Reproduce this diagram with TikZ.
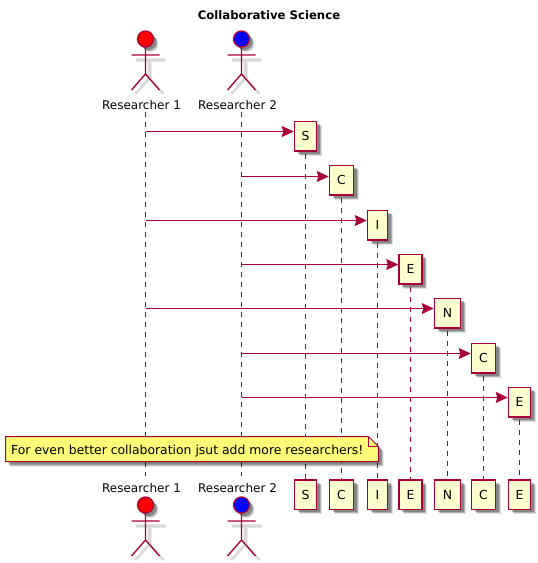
\documentclass[tikz,border=0pt]{standalone}
\usepackage{fontspec}
\setmainfont{DejaVu Sans}
\usetikzlibrary{arrows.meta,shadows,backgrounds}
\definecolor{umlline}{HTML}{A80036}
\definecolor{umlbox}{HTML}{FEFECE}
\definecolor{umlnote}{HTML}{FBFB77}
\tikzset{
    soft shadow/.style={
        general shadow={shadow xshift=5pt, shadow yshift=-5pt, fill=black, opacity=0.12},
        general shadow={shadow xshift=4pt, shadow yshift=-4pt, fill=black, opacity=0.2},
        general shadow={shadow xshift=3pt, shadow yshift=-3pt, fill=black, opacity=0.25}},
    base/.style={font=\fontsize{12.4}{14}\selectfont, text=black},
    title/.style={font=\fontsize{11.7}{14}\selectfont\bfseries, text=black},
    actor label/.style={font=\fontsize{12}{14}\selectfont, text=black, inner sep=0pt},
    part/.style={base, draw=umlline, fill=umlbox, line width=1.5pt, minimum height=29.5pt, inner sep=0pt, soft shadow},
    life/.style={draw=umlline, line width=1pt, dash pattern=on 5pt off 5pt},
    msg/.style={draw=umlline, line width=1pt, -{Stealth[length=12pt,width=11pt,inset=1.5pt]}},
    note text/.style={base, inner sep=0pt},
    note box/.style={draw=umlline, fill=umlnote, line width=1pt, soft shadow},
    pics/stick/.style={code={
        % shadow of arms, body and legs first
        \draw[black!8, line width=4.5pt] (-10,21) -- (20,21) (4,21) -- (4,39);
        \draw[black!15, line width=2.5pt] (-10,21) -- (20,21) (4,21) -- (4,39) (-10,55) -- (4,39) -- (18,55);
        \draw[umlline, line width=1.3pt, fill=#1, soft shadow] (0,0) circle (8);
        \draw[umlline, line width=1.3pt] (0,8) -- (0,35) (-14,16) -- (14,16) (-14,51) -- (0,35) -- (14,51);
    }}
}
\begin{document}
\begin{tikzpicture}[x=1pt,y=-1pt]
    \useasboundingbox (0,0) rectangle (538,563);
    \node[title] (heading) at (269,15) {Collaborative Science};
    % actors, top and bottom
    \foreach \who/\txt/\x/\col in {r1/Researcher 1/145.5/red, r2/Researcher 2/241.5/blue}{
        \pic at (\x,39) {stick=\col};
        \pic at (\x,505) {stick=\col};
        \node[actor label] (\who-top) at (\x-4,105) {\txt};
        \node[actor label] (\who-bot) at (\x-4,488) {\txt};
        \coordinate (\who-start) at (\x,112);
        \coordinate (\who-end) at (\x,476);
    }
    % participants, created by the messages and repeated at the foot
    \foreach \who/\txt/\x/\y/\w in {
        s/S/305.5/136/22, c1/C/341.5/180/24, i/I/377.5/225/20, e1/E/410.5/269/23,
        n/N/447.5/313/26, c2/C/483.5/358/24, e2/E/519.5/402/22}{
        \node[part, minimum width=\w pt] (\who-top) at (\x,\y) {\txt};
        \node[part, minimum width=\w pt] (\who-bot) at (\x,494.5) {\txt};
    }
    % lifelines
    \begin{scope}[on background layer]
        \draw[life] (r1-start) -- (r1-end);
        \draw[life] (r2-start) -- (r2-end);
        \foreach \who in {s,c1,i,e1,n,c2,e2}
            \draw[life] ([yshift=-2pt]\who-top.south) -- (\who-bot.north);
    \end{scope}
    % messages
    \foreach \src/\dst/\y in {r1/s/131.5, r2/c1/176.5, r1/i/220.5, r2/e1/264.5, r1/n/308.5, r2/c2/353.5, r2/e2/397.5}{
        \coordinate (from-\dst) at (\src-start |- 0,\y);
        \draw[msg] (from-\dst) -- (from-\dst -| \dst-top.west);
    }
    % note
    \coordinate (nw) at (5.5,436.5);
    \coordinate (se) at (378.5,461.5);
    \draw[note box] (nw) -- (368.5,436.5) -- (378.5,446.5) -- (se) -- (5.5,461.5) -- cycle;
    \draw[umlline, line width=1pt] (368.5,436.5) -- (368.5,446.5) -- (378.5,446.5);
    \node[note text, anchor=west] (hint) at (11,451) {For even better collaboration jsut add more researchers!};
\end{tikzpicture}
\end{document}
